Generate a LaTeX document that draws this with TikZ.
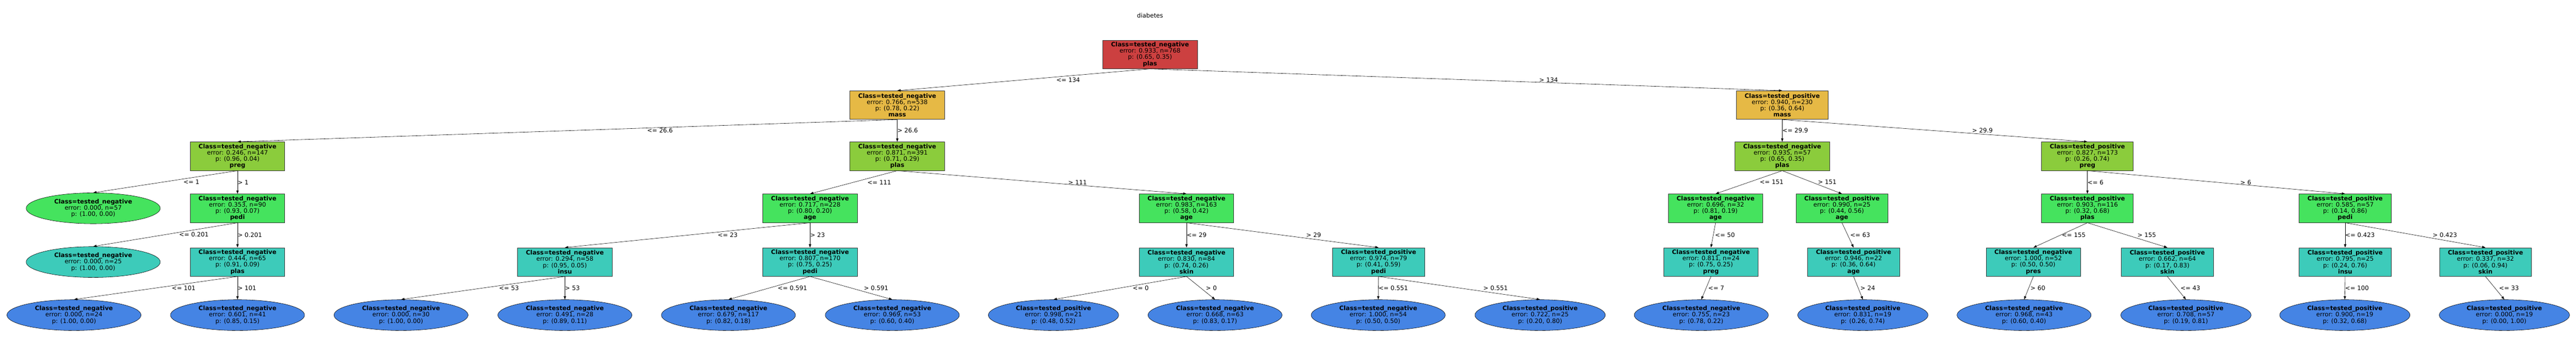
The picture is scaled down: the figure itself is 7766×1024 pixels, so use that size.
\documentclass[tikz,border=0pt]{standalone}
\usepackage{fontspec}
\setmainfont{DejaVu Sans}
\usepackage{tikz}
\usetikzlibrary{shapes.geometric,arrows.meta}

\definecolor{depthA}{RGB}{204,64,64}
\definecolor{depthB}{RGB}{230,185,69}
\definecolor{depthC}{RGB}{139,204,60}
\definecolor{depthD}{RGB}{69,227,94}
\definecolor{depthE}{RGB}{61,203,186}
\definecolor{depthF}{RGB}{69,132,228}

\newcommand{\splittxt}[5]{\textbf{Class=tested\_#1}\\error: #2, n=#3\\p: #4\\\textbf{#5}}
\newcommand{\leaftxt}[4]{\textbf{Class=tested\_#1}\\error: #2, n=#3\\p: #4}

\begin{document}
\begin{tikzpicture}[x=1pt, y=-1pt,
  every node/.style={font=\fontsize{18.3}{19}\selectfont},
  split/.style={draw=black!80, line width=1.2pt, rectangle, align=center,
    inner xsep=25pt, minimum height=86pt},
  leaf/.style={draw=black, line width=0.9pt, ellipse, align=center,
    inner xsep=25.5pt, inner ysep=5pt},
  edge/.style={draw=black, line width=0.9pt, -{Triangle[length=10pt,width=7pt]}},
  lbl/.style={anchor=west, inner sep=0pt}]
\useasboundingbox (0,0) rectangle (7766,1024);

\node (title) at (3467,47) {diabetes};

\node[split, fill=depthA] (root) at (3467,164) {\splittxt{negative}{0.933}{768}{(0.65, 0.35)}{plas}};

\node[split, fill=depthB] (massL) at (2705,317) {\splittxt{negative}{0.766}{538}{(0.78, 0.22)}{mass}};
\node[split, fill=depthB] (massR) at (5373,317) {\splittxt{positive}{0.940}{230}{(0.36, 0.64)}{mass}};

\node[split, fill=depthC] (pregA) at (716,471) {\splittxt{negative}{0.246}{147}{(0.96, 0.04)}{preg}};
\node[split, fill=depthC] (plasA) at (2705,471) {\splittxt{negative}{0.871}{391}{(0.71, 0.29)}{plas}};
\node[split, fill=depthC] (plasB) at (5373,471) {\splittxt{negative}{0.935}{57}{(0.65, 0.35)}{plas}};
\node[split, fill=depthC] (pregB) at (6293,471) {\splittxt{positive}{0.827}{173}{(0.26, 0.74)}{preg}};

\node[leaf, fill=depthD] (leafA) at (281,628) {\leaftxt{negative}{0.000}{57}{(1.00, 0.00)}};
\node[split, fill=depthD] (pediA) at (716,628) {\splittxt{negative}{0.353}{90}{(0.93, 0.07)}{pedi}};
\node[split, fill=depthD] (ageA) at (2442,628) {\splittxt{negative}{0.717}{228}{(0.80, 0.20)}{age}};
\node[split, fill=depthD] (ageB) at (3577,628) {\splittxt{negative}{0.983}{163}{(0.58, 0.42)}{age}};
\node[split, fill=depthD] (ageC) at (5172,628) {\splittxt{negative}{0.696}{32}{(0.81, 0.19)}{age}};
\node[split, fill=depthD] (ageD) at (5553,628) {\splittxt{positive}{0.990}{25}{(0.44, 0.56)}{age}};
\node[split, fill=depthD] (plasC) at (6293,628) {\splittxt{positive}{0.903}{116}{(0.32, 0.68)}{plas}};
\node[split, fill=depthD] (pediB) at (7070,628) {\splittxt{positive}{0.585}{57}{(0.14, 0.86)}{pedi}};

\node[leaf, fill=depthE] (leafB) at (281,790) {\leaftxt{negative}{0.000}{25}{(1.00, 0.00)}};
\node[split, fill=depthE] (plasD) at (716,790) {\splittxt{negative}{0.444}{65}{(0.91, 0.09)}{plas}};
\node[split, fill=depthE] (insuA) at (1703,790) {\splittxt{negative}{0.294}{58}{(0.95, 0.05)}{insu}};
\node[split, fill=depthE] (pediC) at (2442,790) {\splittxt{negative}{0.807}{170}{(0.75, 0.25)}{pedi}};
\node[split, fill=depthE] (skinA) at (3577,790) {\splittxt{negative}{0.830}{84}{(0.74, 0.26)}{skin}};
\node[split, fill=depthE] (pediD) at (4156,790) {\splittxt{positive}{0.974}{79}{(0.41, 0.59)}{pedi}};
\node[split, fill=depthE] (pregC) at (5158,790) {\splittxt{negative}{0.811}{24}{(0.75, 0.25)}{preg}};
\node[split, fill=depthE] (ageE) at (5588,790) {\splittxt{positive}{0.946}{22}{(0.36, 0.64)}{age}};
\node[split, fill=depthE] (presA) at (6130,790) {\splittxt{negative}{1.000}{52}{(0.50, 0.50)}{pres}};
\node[split, fill=depthE] (skinB) at (6534,790) {\splittxt{positive}{0.662}{64}{(0.17, 0.83)}{skin}};
\node[split, fill=depthE] (insuB) at (7070,790) {\splittxt{positive}{0.795}{25}{(0.24, 0.76)}{insu}};
\node[split, fill=depthE] (skinC) at (7493,790) {\splittxt{positive}{0.337}{32}{(0.06, 0.94)}{skin}};

\node[leaf, fill=depthF] (leafC) at (223,950) {\leaftxt{negative}{0.000}{24}{(1.00, 0.00)}};
\node[leaf, fill=depthF] (leafD) at (716,950) {\leaftxt{negative}{0.601}{41}{(0.85, 0.15)}};
\node[leaf, fill=depthF] (leafE) at (1209,950) {\leaftxt{negative}{0.000}{30}{(1.00, 0.00)}};
\node[leaf, fill=depthF] (leafF) at (1703,950) {\leaftxt{negative}{0.491}{28}{(0.89, 0.11)}};
\node[leaf, fill=depthF] (leafG) at (2196,950) {\leaftxt{negative}{0.679}{117}{(0.82, 0.18)}};
\node[leaf, fill=depthF] (leafH) at (2690,950) {\leaftxt{negative}{0.969}{53}{(0.60, 0.40)}};
\node[leaf, fill=depthF] (leafI) at (3176,950) {\leaftxt{positive}{0.998}{21}{(0.48, 0.52)}};
\node[leaf, fill=depthF] (leafJ) at (3663,950) {\leaftxt{negative}{0.668}{63}{(0.83, 0.17)}};
\node[leaf, fill=depthF] (leafK) at (4155,950) {\leaftxt{negative}{1.000}{54}{(0.50, 0.50)}};
\node[leaf, fill=depthF] (leafL) at (4643,950) {\leaftxt{positive}{0.722}{25}{(0.20, 0.80)}};
\node[leaf, fill=depthF] (leafM) at (5129,950) {\leaftxt{negative}{0.755}{23}{(0.78, 0.22)}};
\node[leaf, fill=depthF] (leafN) at (5616,950) {\leaftxt{positive}{0.831}{19}{(0.26, 0.74)}};
\node[leaf, fill=depthF] (leafO) at (6102,950) {\leaftxt{negative}{0.968}{43}{(0.60, 0.40)}};
\node[leaf, fill=depthF] (leafP) at (6590,950) {\leaftxt{positive}{0.708}{57}{(0.19, 0.81)}};
\node[leaf, fill=depthF] (leafQ) at (7069,950) {\leaftxt{positive}{0.900}{19}{(0.32, 0.68)}};
\node[leaf, fill=depthF] (leafR) at (7550,950) {\leaftxt{positive}{0.000}{19}{(0.00, 1.00)}};

\draw[edge] (root.south) -- node[lbl, xshift=98pt] {<= 134} (massL.north);
\draw[edge] (root.south) -- node[lbl, xshift=220pt] {> 134} (massR.north);
\draw[edge] (massL.south) -- node[lbl, xshift=240pt] {<= 26.6} (pregA.north);
\draw[edge] (massL.south) -- node[lbl] {> 26.6} (plasA.north);
\draw[edge] (massR.south) -- node[lbl] {<= 29.9} (plasB.north);
\draw[edge] (massR.south) -- node[lbl, xshift=112pt] {> 29.9} (pregB.north);
\draw[edge] (pregA.south) -- node[lbl, xshift=54pt] {<= 1} (leafA.north);
\draw[edge] (pregA.south) -- node[lbl] {> 1} (pediA.north);
\draw[edge] (plasA.south) -- node[lbl, xshift=41pt] {<= 111} (ageA.north);
\draw[edge] (plasA.south) -- node[lbl, xshift=79pt] {> 111} (ageB.north);
\draw[edge] (plasB.south) -- node[lbl, xshift=32pt] {<= 151} (ageC.north);
\draw[edge] (plasB.south) -- node[lbl, xshift=17pt] {> 151} (ageD.north);
\draw[edge] (pregB.south) -- node[lbl] {<= 6} (plasC.north);
\draw[edge] (pregB.south) -- node[lbl, xshift=72pt] {> 6} (pediB.north);
\draw[edge] (pediA.south) -- node[lbl, xshift=41pt] {<= 0.201} (leafB.north);
\draw[edge] (pediA.south) -- node[lbl] {> 0.201} (plasD.north);
\draw[edge] (ageA.south) -- node[lbl, xshift=91pt] {<= 23} (insuA.north);
\draw[edge] (ageA.south) -- node[lbl] {> 23} (pediC.north);
\draw[edge] (ageB.south) -- node[lbl] {<= 29} (skinA.north);
\draw[edge] (ageB.south) -- node[lbl, xshift=71pt] {> 29} (pediD.north);
\draw[edge] (ageC.south) -- node[lbl, xshift=5pt] {<= 50} (pregC.north);
\draw[edge] (ageD.south) -- node[lbl, xshift=7pt] {<= 63} (ageE.north);
\draw[edge] (plasC.south) -- node[lbl, xshift=4pt] {<= 155} (presA.north);
\draw[edge] (plasC.south) -- node[lbl, xshift=30pt] {> 155} (skinB.north);
\draw[edge] (pediB.south) -- node[lbl] {<= 0.423} (insuB.north);
\draw[edge] (pediB.south) -- node[lbl, xshift=52pt] {> 0.423} (skinC.north);
\draw[edge] (plasD.south) -- node[lbl, xshift=48pt] {<= 101} (leafC.north);
\draw[edge] (plasD.south) -- node[lbl] {> 101} (leafD.north);
\draw[edge] (insuA.south) -- node[lbl, xshift=48pt] {<= 53} (leafE.north);
\draw[edge] (insuA.south) -- node[lbl] {> 53} (leafF.north);
\draw[edge] (pediC.south) -- node[lbl, xshift=25pt] {<= 0.591} (leafG.north);
\draw[edge] (pediC.south) -- node[lbl, xshift=38pt] {> 0.591} (leafH.north);
\draw[edge] (skinA.south) -- node[lbl, xshift=38pt] {<= 0} (leafI.north);
\draw[edge] (skinA.south) -- node[lbl, xshift=15pt] {> 0} (leafJ.north);
\draw[edge] (pediD.south) -- node[lbl] {<= 0.551} (leafK.north);
\draw[edge] (pediD.south) -- node[lbl, xshift=72pt] {> 0.551} (leafL.north);
\draw[edge] (pregC.south) -- node[lbl, xshift=6pt] {<= 7} (leafM.north);
\draw[edge] (ageE.south) -- node[lbl, xshift=6pt] {> 24} (leafN.north);
\draw[edge] (presA.south) -- node[lbl, xshift=5pt] {> 60} (leafO.north);
\draw[edge] (skinB.south) -- node[lbl, xshift=11pt] {<= 43} (leafP.north);
\draw[edge] (insuB.south) -- node[lbl] {<= 100} (leafQ.north);
\draw[edge] (skinC.south) -- node[lbl, xshift=12pt] {<= 33} (leafR.north);
\end{tikzpicture}
\end{document}
